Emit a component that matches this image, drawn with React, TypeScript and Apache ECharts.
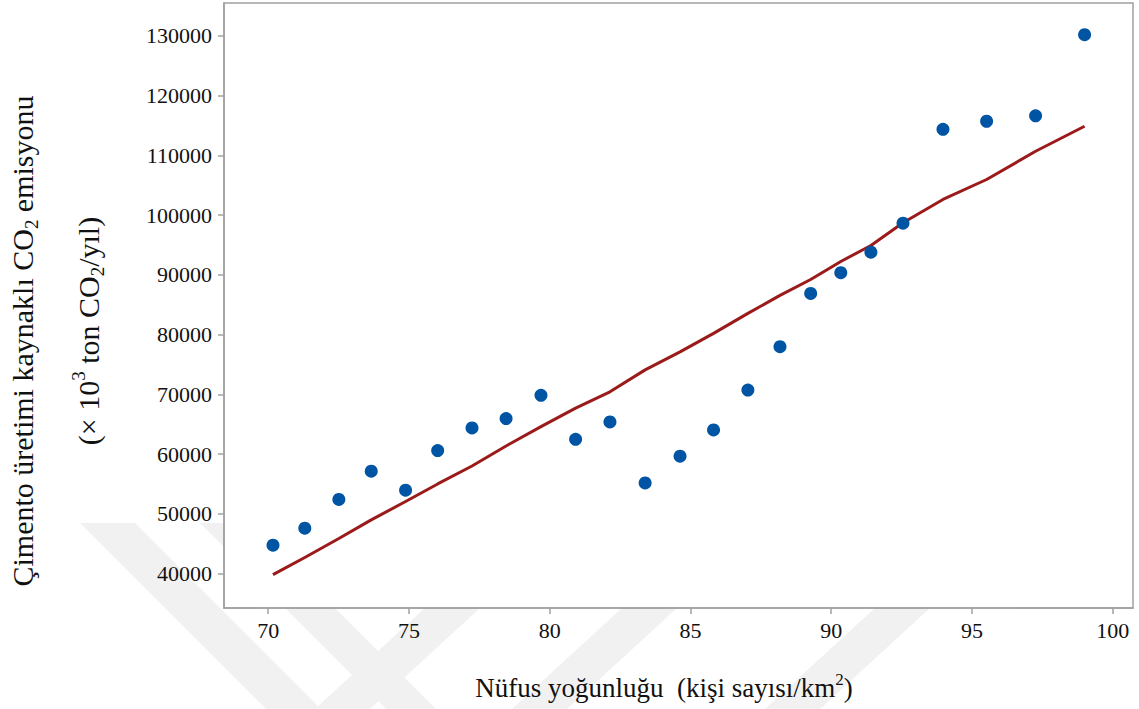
import React, { useEffect, useRef } from "react";
import * as echarts from "echarts";

// Nüfus yoğunluğu (kişi/km²)
const density = [70.17, 71.3, 72.51, 73.66, 74.88, 76.02, 77.24, 78.45, 79.69, 80.92, 82.14, 83.39, 84.63, 85.82, 87.04, 88.18, 89.27, 90.34, 91.41, 92.55, 93.97, 95.52, 97.26, 99.0];
// Çimento üretimi kaynaklı CO2 emisyonu (×10³ ton CO2/yıl)
const emission = [44770, 47610, 52410, 57140, 53960, 60600, 64380, 65950, 69850, 62490, 65380, 55180, 59650, 64040, 70730, 77990, 86900, 90360, 93800, 98650, 114370, 115710, 116610, 130200];
// Model tahmini (kırmızı çizgi)
const fitted = [39830, 42710, 45890, 49000, 52070, 55010, 58020, 61370, 64610, 67700, 70430, 74100, 77120, 80210, 83550, 86560, 89230, 92240, 94920, 98720, 102620, 105960, 110690, 114870];

const xTicks = [70, 75, 80, 85, 90, 95, 100];
const yTicks = [40000, 50000, 60000, 70000, 80000, 90000, 100000, 110000, 120000, 130000];

const FONT = "Liberation Serif";

export default function App() {
  const ref = useRef<HTMLDivElement>(null);

  useEffect(() => {
    if (!ref.current) return;
    const chart = echarts.init(ref.current, undefined, { renderer: "svg" });

    const wm = "#f1f1f1";
    const bands = [
      [[80, 523], [135, 523], [321, 709], [266, 709]],
      [[200, 523], [250, 523], [436, 709], [386, 709]],
      [[315, 709], [370, 709], [480, 608], [425, 608]],
      [[512, 709], [567, 709], [677, 608], [622, 608]],
      [[765, 709], [820, 709], [930, 608], [875, 608]],
    ];

    const subStyle = { fontSize: 19, fontFamily: FONT, fill: "#111", verticalAlign: "bottom", lineHeight: 19 };
    const supStyle = { fontSize: 19, fontFamily: FONT, fill: "#111", verticalAlign: "top", lineHeight: 19 };

    const option: any = {
      animation: false,
      backgroundColor: "#ffffff",
      grid: {
        left: 224,
        top: 3,
        right: 6,
        bottom: 101,
        show: true,
        backgroundColor: "#ffffff",
        borderColor: "#a0a0a0",
        borderWidth: 1.5,
      },
      xAxis: {
        type: "value",
        min: 68.43,
        max: 100.72,
        axisLine: { show: true, lineStyle: { color: "#a0a0a0", width: 1.5 } },
        axisTick: { show: true, customValues: xTicks, length: 6, lineStyle: { color: "#a0a0a0", width: 1.5 } },
        axisLabel: {
          customValues: xTicks,
          fontSize: 22,
          color: "#111",
          fontFamily: FONT,
          margin: 11,
          formatter: (v: number) => String(v),
        },
        splitLine: { show: false },
      },
      yAxis: {
        type: "value",
        min: 34250,
        max: 135500,
        axisLine: { show: true, lineStyle: { color: "#a0a0a0", width: 1.5 } },
        axisTick: { show: true, customValues: yTicks, length: 6, lineStyle: { color: "#a0a0a0", width: 1.5 } },
        axisLabel: {
          customValues: yTicks,
          fontSize: 22,
          color: "#111",
          fontFamily: FONT,
          margin: 12,
          formatter: (v: number) => String(v),
        },
        splitLine: { show: false },
      },
      graphic: [
        ...bands.map((pts) => ({
          type: "polygon",
          z: -10,
          silent: true,
          shape: { points: pts },
          style: { fill: wm },
        })),
        {
          type: "text",
          x: 22,
          y: 341,
          rotation: Math.PI / 2,
          style: {
            text: "Çimento üretimi kaynaklı CO{sub|2} emisyonu",
            fontSize: 30,
            fontFamily: FONT,
            fill: "#111",
            align: "center",
            verticalAlign: "middle",
            lineHeight: 38,
            rich: { sub: subStyle },
          },
        },
        {
          type: "text",
          x: 88,
          y: 331,
          rotation: Math.PI / 2,
          style: {
            text: "(× 10{sup|3} ton CO{sub|2}/yıl)",
            fontSize: 30,
            fontFamily: FONT,
            fill: "#111",
            align: "center",
            verticalAlign: "middle",
            lineHeight: 38,
            rich: { sub: subStyle, sup: supStyle },
          },
        },
        {
          type: "text",
          x: 664,
          y: 688,
          style: {
            text: "Nüfus yoğunluğu  (kişi sayısı/km{sup|2})",
            fontSize: 27,
            fontFamily: FONT,
            fill: "#111",
            align: "center",
            verticalAlign: "middle",
            lineHeight: 34,
            rich: { sup: { ...supStyle, fontSize: 17, lineHeight: 17 } },
          },
        },
      ],
      series: [
        {
          type: "line",
          data: density.map((x, i) => [x, fitted[i]]),
          symbol: "none",
          lineStyle: { color: "#9b1a1a", width: 3 },
          z: 2,
        },
        {
          type: "scatter",
          data: density.map((x, i) => [x, emission[i]]),
          symbol: "circle",
          symbolSize: 13,
          itemStyle: { color: "#0054a4", opacity: 1 },
          z: 3,
        },
      ],
    };

    chart.setOption(option);
    return () => chart.dispose();
  }, []);

  return (
    <div
      ref={ref}
      style={{ position: "fixed", left: 0, top: 0, width: 1139, height: 709, background: "#fff" }}
    />
  );
}
